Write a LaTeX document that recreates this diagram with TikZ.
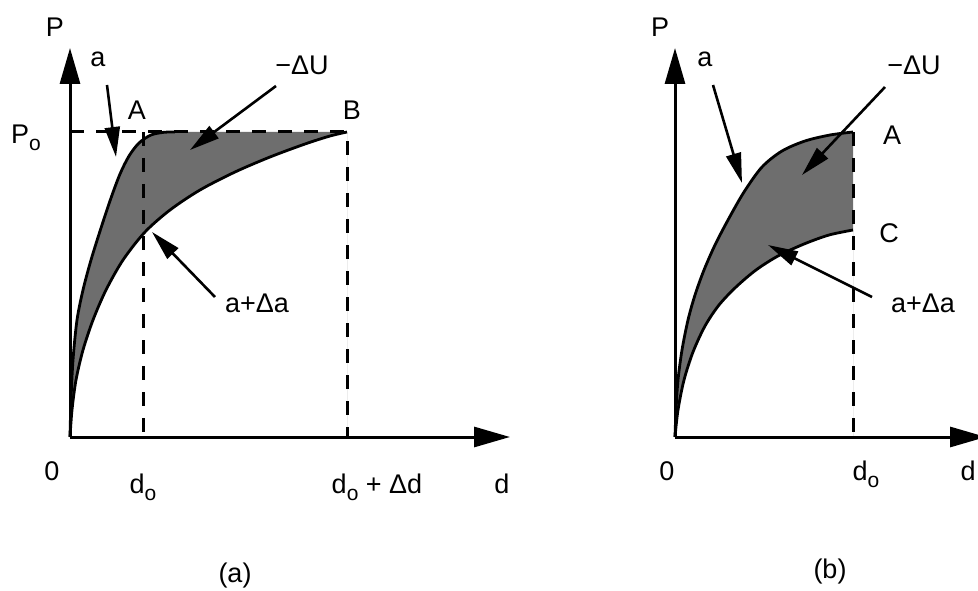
\documentclass[tikz,border=0pt]{standalone}
\usepackage{fontspec}
\setmainfont{Liberation Sans}
\usetikzlibrary{arrows.meta}
\newcommand{\subo}{\raisebox{-7pt}{\fontsize{21}{21}\selectfont o}}

\begin{document}
\begin{tikzpicture}[x=1pt, y=-1pt,
  axis/.style={line width=3pt, -{Triangle[length=36pt,width=20pt]}},
  guide/.style={line width=3pt, dash pattern=on 14pt off 12pt},
  curve/.style={line width=2.8pt},
  area/.style={fill=black!57},
  pointer/.style={line width=2.6pt, -{Triangle[length=30pt,width=15pt]}},
  lbl/.style={font=\fontsize{27}{30}\selectfont, inner sep=0pt, anchor=base}
]
\useasboundingbox (0,0) rectangle (978,591);

% --- Panel (a): fixed load
\coordinate (Oa) at (70,437);
\coordinate (Ya) at (70,48);
\coordinate (Xa) at (510,437);
\coordinate (Pa) at (70,132);
\coordinate (Aa) at (143,132);
\coordinate (Ba) at (347,132);
\coordinate (dAa) at (143,437);
\coordinate (dBa) at (347,437);

\fill[area, even odd rule]
  plot[smooth] coordinates {(70,437) (71,400) (73,360) (77,320) (83,290) (91,260) (101,228) (111,198) (120,174) (129,156) (139,143) (151,135) (164,132.3) (175,132)} -- (Ba) -- (dBa) -- cycle
  plot[smooth] coordinates {(70,437) (72,410) (76,380) (83,350) (93,320) (106,290) (123,260) (145,232) (170,210) (200,190) (235,172) (270,157) (305,144) (330,136) (347,132)} -- (dBa) -- cycle;
\draw[curve] plot[smooth] coordinates {(70,437) (71,400) (73,360) (77,320) (83,290) (91,260) (101,228) (111,198) (120,174) (129,156) (139,143) (151,135) (164,132.3) (175,132)};
\draw[curve] plot[smooth] coordinates {(70,437) (72,410) (76,380) (83,350) (93,320) (106,290) (123,260) (145,232) (170,210) (200,190) (235,172) (270,157) (305,144) (330,136) (347,132)};

\draw[guide] (Pa) -- (Ba) -- (dBa);
\draw[guide] (Aa) -- (dAa);
\draw[axis] (Oa) -- (Ya);
\draw[axis] (Oa) -- (Xa);

\node[lbl] (Pla)  at (55,37)   {P};
\node[lbl] (Poa)  at (26,144)  {P\subo};
\node[lbl] (ala)  at (98,67)   {a};
\node[lbl] (Ala)  at (137,120) {A};
\node[lbl] (Bla)  at (352,120) {B};
\node[lbl] (dUa)  at (302,75)  {−ΔU};
\node[lbl] (aDa)  at (257,312) {a+Δa};
\node[lbl] (zra)  at (52,480)  {0};
\node[lbl] (doa)  at (143,493) {d\subo};
\node[lbl] (ddoa) at (377,493) {d\subo\ + Δd};
\node[lbl] (dla)  at (502,493) {d};
\node[lbl] (capa) at (235,582) {(a)};

\coordinate (ta1) at (107,85);  \coordinate (ha1) at (116,157);
\coordinate (ta2) at (276,86);  \coordinate (ha2) at (190,150);
\coordinate (ta3) at (215,297); \coordinate (ha3) at (152,232);
\draw[pointer] (ta1) -- (ha1);
\draw[pointer] (ta2) -- (ha2);
\draw[pointer] (ta3) -- (ha3);

% --- Panel (b): fixed displacement
\coordinate (Ob) at (675,437);
\coordinate (Yb) at (675,48);
\coordinate (Xb) at (986,437);
\coordinate (Ab) at (853,132);
\coordinate (Cb) at (853,230);
\coordinate (dAb) at (853,437);

\fill[area, even odd rule]
  plot[smooth] coordinates {(675,437) (676,410) (678,380) (682,350) (688,320) (695,295) (704,270) (715,245) (728,220) (744,192) (762,167) (782,151) (805,141) (830,135) (853,132)} -- (dAb) -- cycle
  plot[smooth] coordinates {(675,437) (678,410) (684,380) (693,352) (705,326) (719,305) (736,287) (756,270) (778,256) (804,244) (829,235) (853,230)} -- (dAb) -- cycle;
\draw[curve] plot[smooth] coordinates {(675,437) (676,410) (678,380) (682,350) (688,320) (695,295) (704,270) (715,245) (728,220) (744,192) (762,167) (782,151) (805,141) (830,135) (853,132)};
\draw[curve] plot[smooth] coordinates {(675,437) (678,410) (684,380) (693,352) (705,326) (719,305) (736,287) (756,270) (778,256) (804,244) (829,235) (853,230)};

\draw[guide] (Ab) -- (dAb);
\draw[axis] (Ob) -- (Yb);
\draw[axis] (Ob) -- (Xb);

\node[lbl] (Plb)  at (660,37)  {P};
\node[lbl] (alb)  at (705,67)  {a};
\node[lbl] (dUb)  at (914,75)  {−ΔU};
\node[lbl] (Alb)  at (892,145) {A};
\node[lbl] (Clb)  at (889,242) {C};
\node[lbl] (aDb)  at (923,312) {a+Δa};
\node[lbl] (zrb)  at (667,480) {0};
\node[lbl] (dob)  at (866,480) {d\subo};
\node[lbl] (dlb)  at (968,480) {d};
\node[lbl] (capb) at (830,578) {(b)};

\coordinate (tb1) at (713,85);  \coordinate (hb1) at (742,183);
\coordinate (tb2) at (885,87);  \coordinate (hb2) at (802,175);
\coordinate (tb3) at (872,297); \coordinate (hb3) at (768,245);
\draw[pointer] (tb1) -- (hb1);
\draw[pointer] (tb2) -- (hb2);
\draw[pointer] (tb3) -- (hb3);

\end{tikzpicture}
\end{document}
